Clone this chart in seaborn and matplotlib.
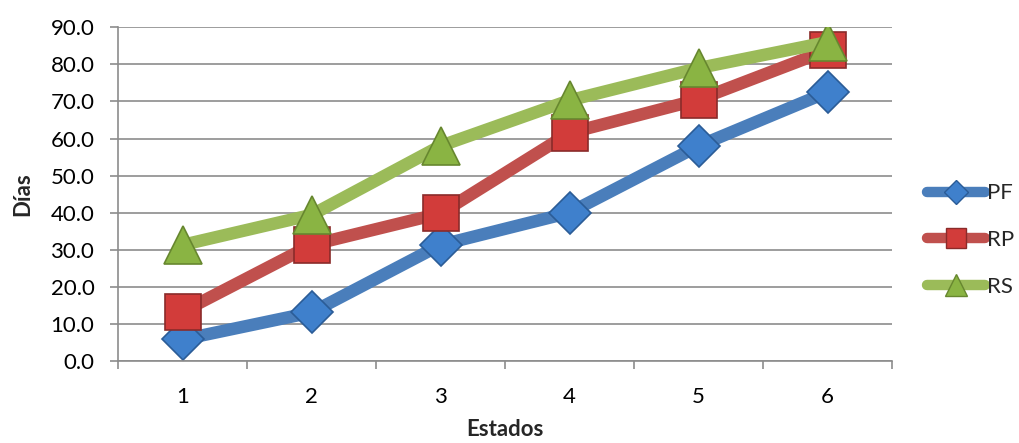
import matplotlib
matplotlib.use("Agg")
import matplotlib.pyplot as plt
from matplotlib.lines import Line2D
import numpy as np
import pandas as pd
import seaborn as sns

# Days per state for each series
estados = [1, 2, 3, 4, 5, 6]
pf = [5.8, 13.1, 31.3, 40.0, 58.0, 72.5]
rp = [13.3, 31.3, 39.8, 61.5, 70.5, 83.8]
rs = [31.3, 39.4, 58.0, 70.3, 79.0, 86.0]
series_names = ["PF", "RP", "RS"]
y_ticks = [0, 10, 20, 30, 40, 50, 60, 70, 80, 90]

df = pd.DataFrame({"Estados": estados, "PF": pf, "RP": rp, "RS": rs})

sns.set_theme(style="white")
plt.rcParams["font.family"] = ["Lato", "DejaVu Sans"]

fig = plt.figure(figsize=(10.19, 4.43), dpi=100)
ax = fig.add_axes([118 / 1019, 1 - 361 / 443, (892 - 118) / 1019, (361 - 27.3) / 443])

styles = {
    "PF": dict(color="#4a7ebb", marker="D", markersize=21, mfc="#3f80cc", mec="#2b5c97"),
    "RP": dict(color="#c0504d", marker="s", markersize=26, mfc="#d23c3a", mec="#8a2b2a"),
    "RS": dict(color="#9bbb59", marker="^", markersize=27, mfc="#8ab443", mec="#67872f"),
}

for name in series_names:
    st = styles[name]
    sns.lineplot(data=df, x="Estados", y=name, ax=ax, color=st["color"], lw=9,
                 marker=st["marker"], markersize=st["markersize"],
                 markerfacecolor=st["mfc"], markeredgecolor=st["mec"],
                 markeredgewidth=1.2, solid_capstyle="round", solid_joinstyle="round")

ax.set_xlim(0.5, 6.5)
ax.set_ylim(0, 90)
ax.set_yticks(y_ticks)
ax.set_yticklabels([f"{v:.1f}" for v in y_ticks])
ax.set_xticks(estados)
ax.set_xticklabels([str(e) for e in estados])
ax.set_xticks(np.arange(0.5, 7.0, 1.0), minor=True)

grid_c = "#8c8c8c"
ax.yaxis.grid(True, color=grid_c, lw=1.2)
ax.xaxis.grid(False)
ax.set_axisbelow(True)
for s in ["top", "right"]:
    ax.spines[s].set_visible(False)
for s in ["left", "bottom"]:
    ax.spines[s].set_color(grid_c)
    ax.spines[s].set_linewidth(1.2)

ax.tick_params(axis="x", which="major", length=0, pad=19, labelsize=16, labelcolor="black")
ax.tick_params(axis="x", which="minor", length=6, width=1.2, color=grid_c, direction="out",
               bottom=True)
ax.tick_params(axis="y", which="major", length=6, width=1.2, color=grid_c, direction="out",
               labelsize=16, labelcolor="black", pad=11, left=True)

ax.set_xlabel("Estados", fontsize=16, fontweight="bold", labelpad=8)
ax.set_ylabel("Días", fontsize=16, fontweight="bold", labelpad=12)

handles = []
for name in series_names:
    st = styles[name]
    handles.append(Line2D([0], [0], color=st["color"], lw=7.5, marker=st["marker"],
                          markersize=st["markersize"] * 0.58, markerfacecolor=st["mfc"],
                          markeredgecolor=st["mec"], markeredgewidth=1.0,
                          solid_capstyle="round"))
fig.legend(handles, series_names, loc="center left",
           bbox_to_anchor=(927 / 1019, 1 - 240 / 443), frameon=False,
           fontsize=16, handlelength=2.6, handletextpad=0.1,
           labelspacing=1.2, borderpad=0, borderaxespad=0)

fig.savefig("out.png", dpi=100)
